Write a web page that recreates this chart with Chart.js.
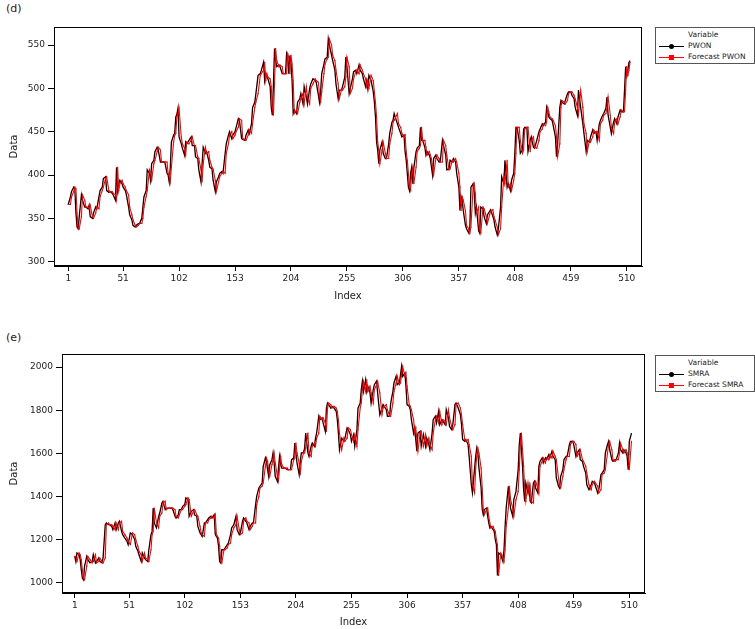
<!DOCTYPE html>
<html>
<head>
<meta charset="utf-8">
<script src="https://cdn.jsdelivr.net/npm/chart.js@4.4.1/dist/chart.umd.min.js"></script>
<style>
  body { margin: 0; background: #fff; font-family: "DejaVu Sans", sans-serif; }
  #page { position: relative; width: 755px; height: 629px; overflow: hidden; background: #fff; }
  .panel { position: absolute; left: 0; }
  .tag { position: absolute; left: 6px; font-size: 11px; color: #222; }
  .legend { position: absolute; left: 655px; width: 98px; height: 35px; border: 1px solid #555; color: #222; font-size: 7.5px; }
  .legend .txt { position: absolute; left: 32px; line-height: 10px; white-space: nowrap; }
  .legend .ln { position: absolute; left: 3px; width: 25px; height: 1px; }
  .legend .mk { position: absolute; left: 13px; width: 5px; height: 5px; }
</style>
</head>
<body>
<div id="page">
  <div class="tag" style="top:2px">(d)</div>
  <canvas id="chartD" class="panel" style="top:0" width="650" height="310"></canvas>
  <div class="legend" style="top:27px">
    <div class="txt" style="top:2px">Variable</div>
    <div class="ln" style="top:18px;background:#000"></div>
    <div class="mk" style="top:16px;background:#000;border-radius:50%"></div>
    <div class="txt" style="top:13px">PWON</div>
    <div class="ln" style="top:29px;background:#f00"></div>
    <div class="mk" style="top:27px;background:#f00"></div>
    <div class="txt" style="top:24px">Forecast PWON</div>
  </div>

  <div class="tag" style="top:331px">(e)</div>
  <canvas id="chartE" class="panel" style="top:320px" width="650" height="309"></canvas>
  <div class="legend" style="top:355px">
    <div class="txt" style="top:2px">Variable</div>
    <div class="ln" style="top:18px;background:#000"></div>
    <div class="mk" style="top:16px;background:#000;border-radius:50%"></div>
    <div class="txt" style="top:13px">SMRA</div>
    <div class="ln" style="top:29px;background:#f00"></div>
    <div class="mk" style="top:27px;background:#f00"></div>
    <div class="txt" style="top:24px">Forecast SMRA</div>
  </div>
</div>

<script>
// index ticks shown under both panels
let tickIdx = [1, 51, 102, 153, 204, 255, 306, 357, 408, 459, 510];
let pwonTicks = [300, 350, 400, 450, 500, 550];
let smraTicks = [1000, 1200, 1400, 1600, 1800, 2000];

// PWON (panel d)
let pwonIdx = [1,3,4,6,7,8,9,10,11,13,14,16,17,19,20,21,23,24,26,27,29,30,32,33,35,36,38,39,41,42,44,45,46,47,48,50,51,53,54,56,57,59,60,62,63,65,66,68,69,70,72,73,75,76,77,79,80,82,83,85,86,88,89,91,92,93,94,95,97,98,99,100,101,102,104,105,107,108,109,111,113,114,116,117,119,120,122,123,
  124,126,127,129,130,132,133,135,136,138,139,141,142,144,145,147,148,150,151,153,154,156,157,159,160,162,163,165,166,168,169,171,172,174,176,177,179,180,181,182,183,185,186,187,188,189,190,191,193,194,196,197,199,200,201,202,203,204,205,206,207,209,210,212,213,215,216,218,219,221,222,224,226,227,229,230,231,232,234,235,237,238,239,241,242,244,245,247,248,250,251,253,254,255,257,
  258,260,261,263,264,266,267,269,270,272,273,274,275,277,279,280,281,282,283,284,285,287,288,290,291,293,294,296,297,298,
  301,302,304,305,307,308,309,310,311,312,313,314,315,316,318,319,321,322,323,324,326,327,328,330,331,332,333,334,336,337,339,340,342,343,345,346,348,349,351,352,354,355,357,358,359,360,361,363,364,366,367,368,370,371,372,373,375,376,377,379,380,382,383,385,386,388,389,
  390,392,393,395,396,398,399,401,402,404,405,407,408,409,410,412,413,415,416,417,419,420,422,423,425,426,428,430,431,433,434,436,437,438,439,440,442,443,445,446,447,449,450,451,453,454,456,457,459,460,462,463,465,466,468,470,471,473,474,476,477,479,480,482,483,485,486,488,489,491,492,493,495,496,498,499,501,502,504,505,507,508,509,510,511,512,513];
let pwon = [366,375,381,386,384,356,340,338,352,377,371,363,363,361,365,352,350,356,363,361,375,382,386,396,398,382,380,381,379,377,371,409,382,390,394,390,386,382,377,363,354,348,342,340,342,344,344,350,363,375,382,406,402,394,413,417,427,432,429,415,415,415,415,402,400,392,409,438,446,448,467,470,477,444,436,431,423,438,436,440,444,434,434,421,419,406,392,413,
  432,425,427,417,409,407,394,381,392,398,402,404,402,425,436,446,450,442,446,450,455,465,463,442,441,440,446,452,448,459,478,484,494,515,517,521,530,509,517,513,511,502,478,469,505,546,532,525,527,525,517,517,517,540,536,517,538,528,509,471,475,471,484,488,494,482,502,490,482,500,505,511,509,507,492,484,496,517,528,534,536,557,550,538,532,521,505,488,498,498,502,513,536,525,494,
  500,511,519,521,517,527,521,517,511,502,509,500,515,509,496,484,467,438,429,413,429,438,425,419,419,436,448,461,463,471,
  459,455,448,444,446,427,417,402,386,382,402,409,390,409,427,431,434,455,440,440,432,423,427,423,419,409,400,419,423,419,415,415,440,434,423,406,407,417,415,419,415,402,386,359,375,371,359,342,338,333,340,386,390,379,356,363,336,333,363,361,352,344,354,358,360,352,348,
  340,331,338,363,398,390,417,386,390,382,394,402,425,455,455,440,425,429,453,455,455,427,440,444,432,431,440,450,453,459,457,461,478,473,467,465,463,457,444,421,436,478,486,484,482,486,494,496,496,492,488,478,469,498,478,459,448,427,440,438,444,452,448,450,440,459,463,469,471,477,490,469,455,448,461,465,459,467,475,473,473,498,525,515,521,530,532];
let pwonForecast = [366,366,375,381,386,384,356,340,338,352,377,371,363,363,361,365,352,350,356,363,361,375,382,386,396,398,382,380,381,379,377,371,409,382,390,394,390,386,382,377,363,354,348,342,340,342,344,344,350,363,375,382,406,402,394,413,417,427,432,429,415,415,415,415,402,400,392,409,438,446,448,467,470,477,444,436,431,423,438,436,440,444,434,434,421,419,406,392,
  413,432,425,427,417,409,407,394,381,392,398,402,404,402,425,436,446,450,442,446,450,455,465,463,442,441,440,446,452,448,459,478,484,494,515,517,521,530,509,517,513,511,502,478,469,505,546,532,525,527,525,517,517,517,540,536,517,538,528,509,471,475,471,484,488,494,482,502,490,482,500,505,511,509,507,492,484,496,517,528,534,536,557,550,538,532,521,505,488,498,498,502,513,536,525,
  494,500,511,519,521,517,527,521,517,511,502,509,500,515,509,496,484,467,438,429,413,429,438,425,419,419,436,448,461,463,
  471,459,455,448,444,446,427,417,402,386,382,402,409,390,409,427,431,434,455,440,440,432,423,427,423,419,409,400,419,423,419,415,415,440,434,423,406,407,417,415,419,415,402,386,359,375,371,359,342,338,333,340,386,390,379,356,363,336,333,363,361,352,344,354,358,360,352,
  348,340,331,338,363,398,390,417,386,390,382,394,402,425,455,455,440,425,429,453,455,455,427,440,444,432,431,440,450,453,459,457,461,478,473,467,465,463,457,444,421,436,478,486,484,482,486,494,496,496,492,488,478,469,498,478,459,448,427,440,438,444,452,448,450,440,459,463,469,471,477,490,469,455,448,461,465,459,467,475,473,473,498,525,515,521,530];

// SMRA (panel e)
let smraIdx = [1,2,3,5,6,7,8,9,10,12,13,15,17,18,20,21,23,24,26,27,29,30,32,33,35,36,38,39,41,42,44,45,47,49,50,52,
  54,56,57,59,60,62,63,65,66,68,69,71,72,73,74,76,78,79,81,82,84,85,87,88,90,91,93,94,96,97,99,100,102,103,105,106,108,110,111,113,114,116,117,118,120,121,123,124,126,127,
  129,130,131,132,133,134,135,136,138,139,141,142,144,145,147,149,150,152,153,155,156,158,159,161,162,164,165,167,168,170,171,173,174,176,177,178,179,180,182,183,184,185,187,188,189,190,191,193,194,196,197,199,200,202,203,204,205,207,208,209,211,212,213,215,216,218,219,221,222,223,225,226,228,229,231,232,233,234,236,237,239,241,242,243,244,246,248,249,251,252,254,255,257,258,
  260,261,263,264,265,266,268,269,270,272,273,275,276,278,279,281,283,284,
  287,288,290,291,293,294,296,297,299,300,301,302,304,305,306,308,309,310,312,313,314,315,316,318,319,321,323,324,326,327,329,330,332,333,335,336,338,339,341,342,344,345,347,348,350,351,353,355,356,357,359,360,362,363,365,366,368,369,370,371,372,374,375,376,377,379,380,381,382,383,385,386,387,388,389,390,392,393,
  394,395,396,397,399,400,401,403,404,406,408,409,410,411,412,413,414,415,417,418,419,420,422,423,424,426,427,428,430,431,433,434,436,437,439,440,442,443,445,446,447,449,450,452,453,455,456,458,459,461,462,464,465,467,468,470,471,473,475,476,478,479,481,482,484,485,487,488,490,491,492,494,495,497,498,500,501,502,504,505,507,508,509,510,512];
let smra = [1123,1100,1139,1131,1108,1062,1023,1015,1077,1123,1108,1093,1100,1131,1093,1100,1116,1100,1093,1116,1270,1278,1270,1270,1262,1247,1278,1247,1278,1286,1239,1224,1208,1193,1178,1232,
  1224,1201,1170,1147,1131,1100,1139,1116,1108,1100,1154,1224,1239,1347,1278,1255,1309,1324,1370,1378,1340,1347,1347,1347,1347,1340,1309,1301,1316,1340,1340,1355,1363,1394,1386,1309,1332,1340,1316,1309,1262,1232,1224,1216,1278,1278,1293,1301,1309,1301,
  1316,1224,1216,1208,1170,1100,1093,1154,1154,1162,1178,1185,1224,1255,1270,1309,1247,1224,1232,1286,1301,1286,1278,1247,1262,1278,1278,1363,1401,1440,1448,1463,1540,1579,1563,1525,1494,1548,1571,1602,1556,1494,1471,1532,1586,1548,1532,1532,1532,1525,1525,1525,1571,1579,1648,1602,1556,1502,1563,1602,1602,1625,1694,1602,1586,1633,1648,1633,1671,1694,1772,1756,1764,1741,1702,1810,1833,1826,1810,1818,1810,1795,1756,1694,1617,1671,1656,1671,1718,1710,1687,1656,1687,1633,
  1710,1810,1833,1895,1934,1887,1941,1887,1911,1880,1833,1895,1918,1934,1880,1779,1810,1826,
  1802,1772,1772,1833,1887,1926,1957,1918,1926,1965,2003,1957,1972,1911,1826,1818,1802,1756,1694,1718,1664,1610,1694,1702,1633,1687,1633,1671,1641,1617,1694,1756,1772,1741,1795,1733,1756,1748,1733,1802,1764,1725,1710,1733,1826,1833,1810,1779,1733,1664,1656,1664,1641,1586,1455,1417,1532,1586,1625,1602,1532,1440,1340,1316,1340,1347,1309,1278,1255,1262,1247,1239,1201,1178,1035,1139,1131,1116,
  1100,1154,1262,1347,1448,1386,1347,1309,1386,1424,1525,1641,1694,1617,1540,1432,1378,1463,1417,1448,1378,1371,1463,1471,1440,1417,1540,1563,1579,1556,1579,1571,1594,1579,1610,1586,1571,1486,1448,1440,1494,1525,1571,1586,1586,1641,1656,1656,1641,1586,1602,1617,1571,1563,1540,1509,1455,1432,1455,1471,1463,1448,1417,1432,1502,1509,1525,1602,1641,1656,1617,1571,1563,1571,1571,1602,1648,1617,1602,1617,1602,1586,1525,1656,1694];
let smraForecast = [1123,1123,1100,1139,1131,1108,1062,1023,1015,1077,1123,1108,1093,1100,1131,1093,1100,1116,1100,1093,1116,1270,1278,1270,1270,1262,1247,1278,1247,1278,1286,1239,1224,1208,1193,1178,
  1232,1224,1201,1170,1147,1131,1100,1139,1116,1108,1100,1154,1224,1239,1347,1278,1255,1309,1324,1370,1378,1340,1347,1347,1347,1347,1340,1309,1301,1316,1340,1340,1355,1363,1394,1386,1309,1332,1340,1316,1309,1262,1232,1224,1216,1278,1278,1293,1301,1309,
  1301,1316,1224,1216,1208,1170,1100,1093,1154,1154,1162,1178,1185,1224,1255,1270,1309,1247,1224,1232,1286,1301,1286,1278,1247,1262,1278,1278,1363,1401,1440,1448,1463,1540,1579,1563,1525,1494,1548,1571,1602,1556,1494,1471,1532,1586,1548,1532,1532,1532,1525,1525,1525,1571,1579,1648,1602,1556,1502,1563,1602,1602,1625,1694,1602,1586,1633,1648,1633,1671,1694,1772,1756,1764,1741,1702,1810,1833,1826,1810,1818,1810,1795,1756,1694,1617,1671,1656,1671,1718,1710,1687,1656,1687,
  1633,1710,1810,1833,1895,1934,1887,1941,1887,1911,1880,1833,1895,1918,1934,1880,1779,1810,
  1826,1802,1772,1772,1833,1887,1926,1957,1918,1926,1965,2003,1957,1972,1911,1826,1818,1802,1756,1694,1718,1664,1610,1694,1702,1633,1687,1633,1671,1641,1617,1694,1756,1772,1741,1795,1733,1756,1748,1733,1802,1764,1725,1710,1733,1826,1833,1810,1779,1733,1664,1656,1664,1641,1586,1455,1417,1532,1586,1625,1602,1532,1440,1340,1316,1340,1347,1309,1278,1255,1262,1247,1239,1201,1178,1035,1139,1131,
  1116,1100,1154,1262,1347,1448,1386,1347,1309,1386,1424,1525,1641,1694,1617,1540,1432,1378,1463,1417,1448,1378,1371,1463,1471,1440,1417,1540,1563,1579,1556,1579,1571,1594,1579,1610,1586,1571,1486,1448,1440,1494,1525,1571,1586,1586,1641,1656,1656,1641,1586,1602,1617,1571,1563,1540,1509,1455,1432,1455,1471,1463,1448,1417,1432,1502,1509,1525,1602,1641,1656,1617,1571,1563,1571,1571,1602,1648,1617,1602,1617,1602,1586,1525,1656];

const tickFont = { family: "DejaVu Sans", size: 9 };
const titleFont = { family: "DejaVu Sans", size: 10 };

// box around the plot area
const frame = {
  id: 'frame',
  afterDraw(chart) {
    let a = chart.chartArea, c = chart.ctx;
    c.save();
    c.strokeStyle = '#000';
    c.lineWidth = 1;
    c.strokeRect(Math.round(a.left) + 0.5, Math.round(a.top) + 0.5, Math.round(a.width) - 1, Math.round(a.height) - 1);
    c.restore();
  }
};

function toPoints(idx, vals) {
  return idx.map((x, i) => ({x: x, y: vals[i]}));
}

function generateChart(id, o) {
  let ctx = document.getElementById(id).getContext('2d');
  return new Chart(ctx, {
    type: 'line',
    data: {
      datasets: [{
        label: o.name,
        data: toPoints(o.idx, o.actual),
        borderColor: '#000',
        backgroundColor: '#000',
        borderWidth: 1.3,
        pointRadius: 0,
        order: 2
      }, {
        label: 'Forecast ' + o.name,
        data: toPoints(o.idx, o.forecast),
        borderColor: '#f00',
        backgroundColor: '#f00',
        borderWidth: 1.1,
        pointRadius: 0.8,
        pointBorderWidth: 0,
        pointStyle: 'rect',
        order: 1
      }]
    },
    options: {
      responsive: false,
      animation: false,
      devicePixelRatio: 1,
      layout: { autoPadding: false, padding: { left: 0, top: o.top, right: o.right, bottom: 0 } },
      plugins: { legend: { display: false }, tooltip: { enabled: false } },
      scales: {
        x: {
          type: 'linear',
          min: o.xMin,
          max: o.xMax,
          afterBuildTicks: s => { s.ticks = tickIdx.map(v => ({value: v})); },
          afterFit: s => { s.height = o.xHeight; },
          grid: { drawOnChartArea: false, drawTicks: true, tickLength: 5, color: '#000' },
          border: { color: '#000' },
          ticks: { color: '#222', font: tickFont, padding: 2, maxRotation: 0, autoSkip: false, callback: v => String(v) },
          title: { display: true, text: 'Index', color: '#222', font: titleFont, padding: { top: 0, bottom: o.titlePad } }
        },
        y: {
          min: o.yMin,
          max: o.yMax,
          afterBuildTicks: s => { s.ticks = o.yTicks.map(v => ({value: v})); },
          afterFit: s => { s.width = o.yWidth; },
          grid: { drawOnChartArea: false, drawTicks: true, tickLength: 6, color: '#000' },
          border: { color: '#000' },
          ticks: { color: '#222', font: tickFont, padding: 3, callback: v => String(v) },
          title: { display: true, text: 'Data', color: '#222', font: titleFont, padding: { top: 8, bottom: 0 } }
        }
      }
    },
    plugins: [frame]
  });
}

generateChart('chartD', {
  name: 'PWON', idx: pwonIdx, actual: pwon, forecast: pwonForecast,
  xMin: -12, xMax: 523.9, yMin: 295, yMax: 570.8, yTicks: pwonTicks,
  top: 27, right: 8, yWidth: 54, xHeight: 44, titlePad: 8
});

generateChart('chartE', {
  name: 'SMRA', idx: smraIdx, actual: smra, forecast: smraForecast,
  xMin: -10.7, xMax: 524.4, yMin: 953.7, yMax: 2060.2, yTicks: smraTicks,
  top: 34, right: 5, yWidth: 62, xHeight: 36, titlePad: 1
});
</script>
</body>
</html>
